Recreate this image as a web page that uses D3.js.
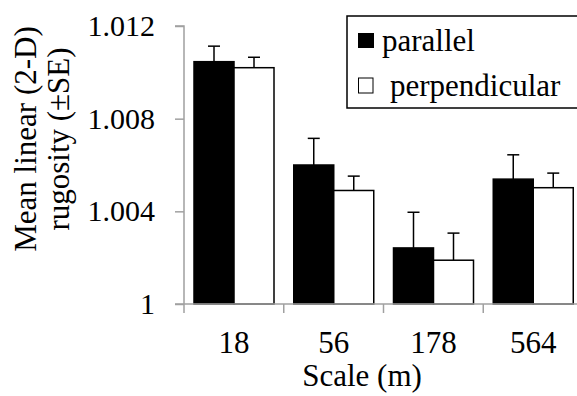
<!DOCTYPE html>
<html><head><meta charset="utf-8">
<script src="https://cdn.jsdelivr.net/npm/d3@7"></script>
<style>html,body{margin:0;padding:0;background:#fff;overflow:hidden}</style>
</head><body>
<svg id="chart" width="577" height="396"></svg>
<script>
const categories = ["18", "56", "178", "564"];
const seriesNames = ["parallel", "perpendicular"];
const parallelMean = [1.01046, 1.0060, 1.00242, 1.00539];
const parallelSE = [0.00067, 0.00115, 0.00154, 0.00105];
const perpMean = [1.0102, 1.0049, 1.00189, 1.00502];
const perpSE = [0.00045, 0.00062, 0.00117, 0.00063];
const yTicks = [1, 1.004, 1.008, 1.012];
const yTickLabels = ["1", "1.004", "1.008", "1.012"];
const fills = ["#000000", "#ffffff"];

const svg = d3.select("#chart");
const font = "Liberation Serif, Times New Roman, serif";
const axisColor = "#a0a0a0";

const x0 = d3.scaleBand().domain(categories).range([184, 583]).paddingInner(0).paddingOuter(0);
const x1 = d3.scaleBand().domain(seriesNames).range([10, 90]);
const y = d3.scaleLinear().domain([1, 1.012]).range([304, 26]);

const data = categories.map((c, i) => [
  {cat: c, s: seriesNames[0], v: parallelMean[i], se: parallelSE[i]},
  {cat: c, s: seriesNames[1], v: perpMean[i], se: perpSE[i]}
]).flat();

// error bars (drawn first, behind bars)
const eb = svg.append("g");
data.forEach(d => {
  const cx = x0(d.cat) + x1(d.s) + x1.bandwidth() / 2;
  eb.append("line").attr("x1", cx).attr("x2", cx)
    .attr("y1", y(d.v)).attr("y2", y(d.v + d.se))
    .attr("stroke", "#000").attr("stroke-width", 1.5);
  eb.append("line").attr("x1", cx - 6).attr("x2", cx + 6)
    .attr("y1", y(d.v + d.se)).attr("y2", y(d.v + d.se))
    .attr("stroke", "#000").attr("stroke-width", 1.5);
});

// bars
svg.append("g").selectAll("rect").data(data).join("rect")
  .attr("x", d => x0(d.cat) + x1(d.s))
  .attr("y", d => y(d.v))
  .attr("width", x1.bandwidth())
  .attr("height", d => y(1) - y(d.v))
  .attr("fill", d => fills[seriesNames.indexOf(d.s)])
  .attr("stroke", "#000")
  .attr("stroke-width", 1.5);

// y axis
const yAxis = svg.append("g").attr("transform", "translate(184,0)")
  .call(d3.axisLeft(y).tickValues(yTicks).tickFormat((d, i) => yTickLabels[i]).tickSize(9).tickPadding(20));
yAxis.select(".domain").attr("stroke", axisColor).attr("stroke-width", 1.5).attr("d", "M-9,26H0V304");
yAxis.selectAll(".tick line").attr("stroke", axisColor).attr("stroke-width", 1.5);
yAxis.selectAll(".tick text").style("font-family", font).style("font-size", "30px").attr("fill", "#000");

// x axis
const xAxis = svg.append("g").attr("transform", "translate(0,304)")
  .call(d3.axisBottom(x0).tickSize(0).tickPadding(0));
xAxis.select(".domain").attr("stroke", axisColor).attr("stroke-width", 1.5).attr("d", "M175,0H583");
xAxis.selectAll(".tick text").attr("y", 49).attr("dy", null)
  .style("font-family", font).style("font-size", "31px").attr("fill", "#000");
// category boundary ticks
const bounds = categories.map(c => x0(c)).concat([x0.range()[1]]);
svg.append("g").selectAll("line").data(bounds).join("line")
  .attr("x1", d => d).attr("x2", d => d).attr("y1", 304).attr("y2", 313)
  .attr("stroke", axisColor).attr("stroke-width", 1.5);

// axis titles
svg.append("text").attr("x", 362).attr("y", 386).attr("text-anchor", "middle")
  .style("font-family", font).style("font-size", "31px").text("Scale (m)");
const yt = svg.append("text").attr("transform", "translate(36,139) rotate(-90)")
  .attr("text-anchor", "middle").style("font-family", font).style("font-size", "31px");
yt.append("tspan").attr("x", 0).attr("y", 0).text("Mean linear (2-D)");
yt.append("tspan").attr("x", 0).attr("y", 33).text("rugosity (±SE)");

// legend
const lg = svg.append("g");
lg.append("rect").attr("x", 347).attr("y", 16).attr("width", 260).attr("height", 92)
  .attr("fill", "#fff").attr("stroke", "#000").attr("stroke-width", 1.5);
lg.append("rect").attr("x", 358).attr("y", 33).attr("width", 16).attr("height", 15).attr("fill", fills[0]);
lg.append("text").attr("x", 382).attr("y", 51).style("font-family", font).style("font-size", "31px").text(seriesNames[0]);
lg.append("rect").attr("x", 358.5).attr("y", 78).attr("width", 14.5).attr("height", 15)
  .attr("fill", fills[1]).attr("stroke", "#000").attr("stroke-width", 1);
lg.append("text").attr("x", 390).attr("y", 96).style("font-family", font).style("font-size", "31px").text(seriesNames[1]);
</script>
</body></html>
